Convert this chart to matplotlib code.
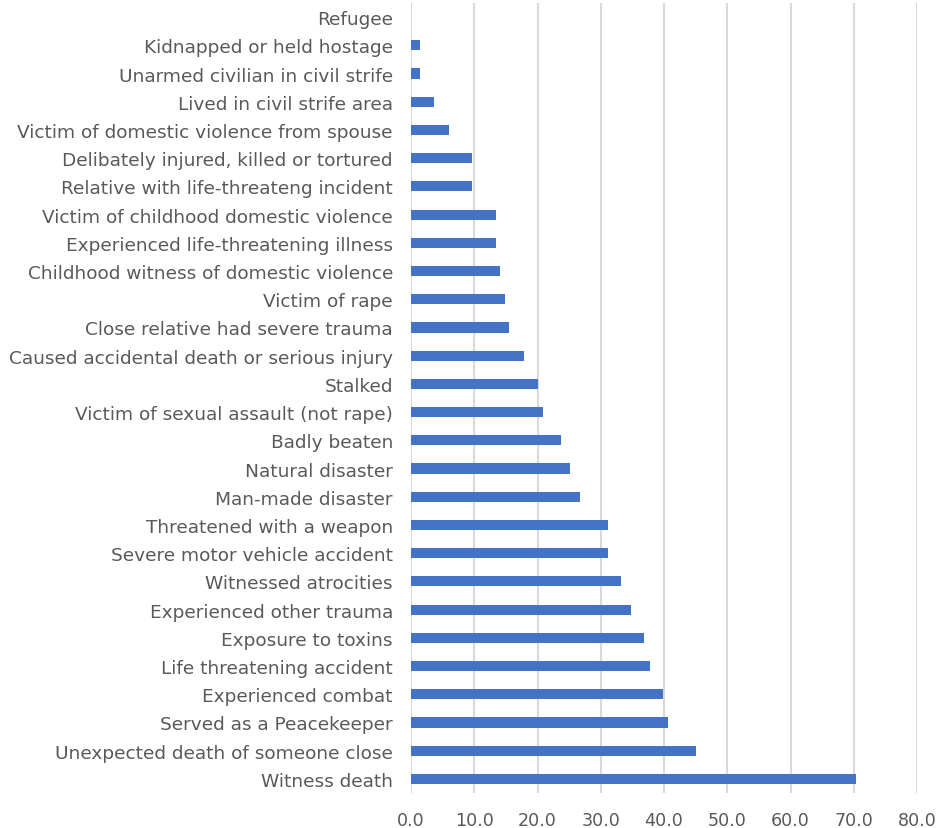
import matplotlib
matplotlib.use("Agg")
import matplotlib.pyplot as plt
import numpy as np

# categories from bottom to top, as drawn
categories = [
    "Witness death",
    "Unexpected death of someone close",
    "Served as a Peacekeeper",
    "Experienced combat",
    "Life threatening accident",
    "Exposure to toxins",
    "Experienced other trauma",
    "Witnessed atrocities",
    "Severe motor vehicle accident",
    "Threatened with a weapon",
    "Man-made disaster",
    "Natural disaster",
    "Badly beaten",
    "Victim of sexual assault (not rape)",
    "Stalked",
    "Caused accidental death or serious injury",
    "Close relative had severe trauma",
    "Victim of rape",
    "Childhood witness of domestic violence",
    "Experienced life-threatening illness",
    "Victim of childhood domestic violence",
    "Relative with life-threateng incident",
    "Delibately injured, killed or tortured",
    "Victim of domestic violence from spouse",
    "Lived in civil strife area",
    "Unarmed civilian in civil strife",
    "Kidnapped or held hostage",
    "Refugee",
]
values = [
    70.3, 45.1, 40.6, 39.9, 37.8, 36.9, 34.8, 33.2, 31.1, 31.2,
    26.7, 25.2, 23.7, 20.9, 20.0, 17.9, 15.5, 14.8, 14.1, 13.4,
    13.4, 9.6, 9.6, 6.0, 3.7, 1.5, 1.5, 0.0,
]
xticks = [0, 10, 20, 30, 40, 50, 60, 70, 80]

txt = "#595959"
fig = plt.figure(figsize=(9.37, 8.29), dpi=100)
ax = fig.add_axes([411 / 937, 1 - 794 / 829, 506 / 937, 790 / 829])

y = np.arange(len(categories))
ax.barh(y, values, height=0.36, color="#4472C4", zorder=3)

ax.set_xlim(0, 80)
ax.set_ylim(-0.5, len(categories) - 0.5)
ax.set_xticks(xticks)
ax.set_xticklabels(["%.1f" % v for v in xticks])
ax.set_yticks(y)
ax.set_yticklabels(categories)

ax.grid(axis="x", color="#d9d9d9", linewidth=1.5, zorder=0)
for s in ax.spines.values():
    s.set_visible(False)
ax.tick_params(axis="y", length=0, pad=13, labelsize=13.3, labelcolor=txt)
ax.tick_params(axis="x", length=0, pad=13, labelsize=12.6, labelcolor=txt)

fig.savefig("out.png", dpi=100)
